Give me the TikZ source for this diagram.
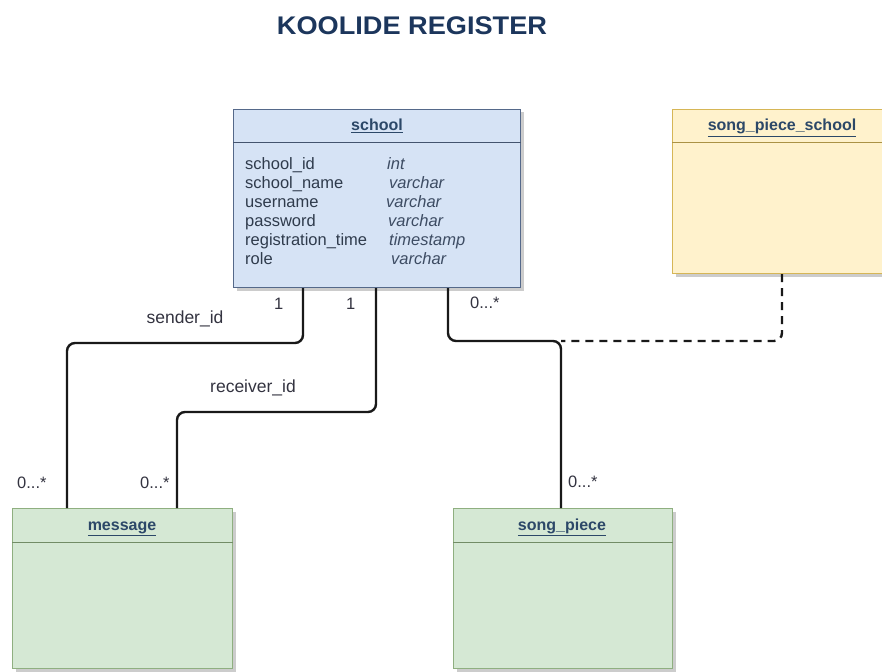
\documentclass[tikz,border=0pt]{standalone}
\usepackage{fontspec}
\setmainfont{Liberation Sans}
\usetikzlibrary{shadows}

\definecolor{titleblue}{HTML}{1C365C}
\definecolor{headtext}{HTML}{2C4868}
\definecolor{attrtext}{HTML}{2F3B4C}
\definecolor{typetext}{HTML}{3D4C63}
\definecolor{labeltext}{HTML}{333340}
\definecolor{blueFill}{HTML}{D6E3F5}
\definecolor{blueLine}{HTML}{55698A}
\definecolor{yellowFill}{HTML}{FFF2CC}
\definecolor{yellowLine}{HTML}{D6B656}
\definecolor{greenFill}{HTML}{D5E8D4}
\definecolor{greenLine}{HTML}{8FAF80}

\tikzset{
  entity/.style={draw, line width=1pt, anchor=north west, inner sep=0pt,
    drop shadow={shadow xshift=3pt, shadow yshift=-3pt, fill=gray, opacity=.4}},
  bluebox/.style={entity, fill=blueFill, draw=blueLine},
  yellowbox/.style={entity, fill=yellowFill, draw=yellowLine},
  greenbox/.style={entity, fill=greenFill, draw=greenLine},
  divider/.style={line width=1pt, draw=#1!80!black},
  header/.style={anchor=base, inner sep=0pt, text=headtext,
    font=\fontsize{16}{19}\selectfont\bfseries},
  attr/.style={anchor=base west, inner sep=0pt, text=attrtext,
    font=\fontsize{16.5}{19}\selectfont},
  attrtype/.style={anchor=base west, inner sep=0pt, text=typetext,
    font=\fontsize{16.5}{19}\selectfont\itshape},
  mult/.style={anchor=base west, inner sep=0pt, text=labeltext,
    font=\fontsize{16.5}{19}\selectfont},
  rolelabel/.style={anchor=base, inner sep=0pt, text=labeltext,
    font=\fontsize{17.5}{20}\selectfont},
  conn/.style={line width=2.4pt, black!90, rounded corners=8pt},
  dashconn/.style={conn, dash pattern=on 8pt off 6pt},
}

\begin{document}
\begin{tikzpicture}[x=1pt, y=-1pt]
\useasboundingbox (0,0) rectangle (882,671);
\clip (0,0) rectangle (882,671);

% title
\node[anchor=base, inner sep=0pt, text=titleblue,
  font=\fontsize{25.5}{28}\selectfont\bfseries] (title) at (412,35)
  {\scalebox{1.065}[1]{KOOLIDE REGISTER}};

% entities
\node[bluebox, minimum width=287pt, minimum height=178pt] (school) at (233,109) {};
\node[yellowbox, minimum width=230pt, minimum height=164pt] (sps) at (672,109) {};
\node[greenbox, minimum width=220pt, minimum height=160pt] (message) at (12,508) {};
\node[greenbox, minimum width=219pt, minimum height=160pt] (songpiece) at (453,508) {};

% header dividers
\draw[divider=blueLine] ([yshift=-34pt]school.north west) -- ([yshift=-34pt]school.north east);
\draw[divider=yellowLine] ([yshift=-34pt]sps.north west) -- ([yshift=-34pt]sps.north east);
\draw[divider=greenLine] ([yshift=-34pt]message.north west) -- ([yshift=-34pt]message.north east);
\draw[divider=greenLine] ([yshift=-34pt]songpiece.north west) -- ([yshift=-34pt]songpiece.north east);

% entity names
\node[header] (schoolname) at ([yshift=-22pt]school.north) {\underline{school}};
\node[header] (spsname) at (782,131) {\underline{song\_piece\_school}};
\node[header] (messagename) at (122,530) {\underline{message}};
\node[header] (songpiecename) at (562,530) {\underline{song\_piece}};

% school attributes
\node[attr] (a1) at (245,169) {school\_id};
\node[attr] (a2) at (245,188) {school\_name};
\node[attr] (a3) at (245,207) {username};
\node[attr] (a4) at (245,226) {password};
\node[attr] (a5) at (245,245) {registration\_time};
\node[attr] (a6) at (245,264) {role};
\node[attrtype] (t1) at (387,169) {int};
\node[attrtype] (t2) at (389,188) {varchar};
\node[attrtype] (t3) at (386,207) {varchar};
\node[attrtype] (t4) at (388,226) {varchar};
\node[attrtype] (t5) at (389,245) {timestamp};
\node[attrtype] (t6) at (391,264) {varchar};

% relationships
\coordinate (junction) at (561,341);
\draw[conn] ([xshift=70pt]school.south west) -- ++(0,55) -| ([xshift=55pt]message.north west);
\draw[conn] ([xshift=143pt]school.south west) -- ++(0,124) -| ([xshift=165pt]message.north west);
\draw[conn] ([xshift=215pt]school.south west) |- (junction) -- ([xshift=108pt]songpiece.north west);
\draw[dashconn] ([xshift=110pt]sps.south west) |- (junction);

% multiplicities and role names
\node[mult] (m1) at (274,309) {1};
\node[mult] (m2) at (346,309) {1};
\node[mult] (m3) at (470,308) {0...*};
\node[mult] (m4) at (17,488) {0...*};
\node[mult] (m5) at (140,488) {0...*};
\node[mult] (m6) at (568,487) {0...*};
\node[rolelabel] (sender) at (185,323) {sender\_id};
\node[rolelabel] (receiver) at (253,392) {receiver\_id};
\end{tikzpicture}
\end{document}
